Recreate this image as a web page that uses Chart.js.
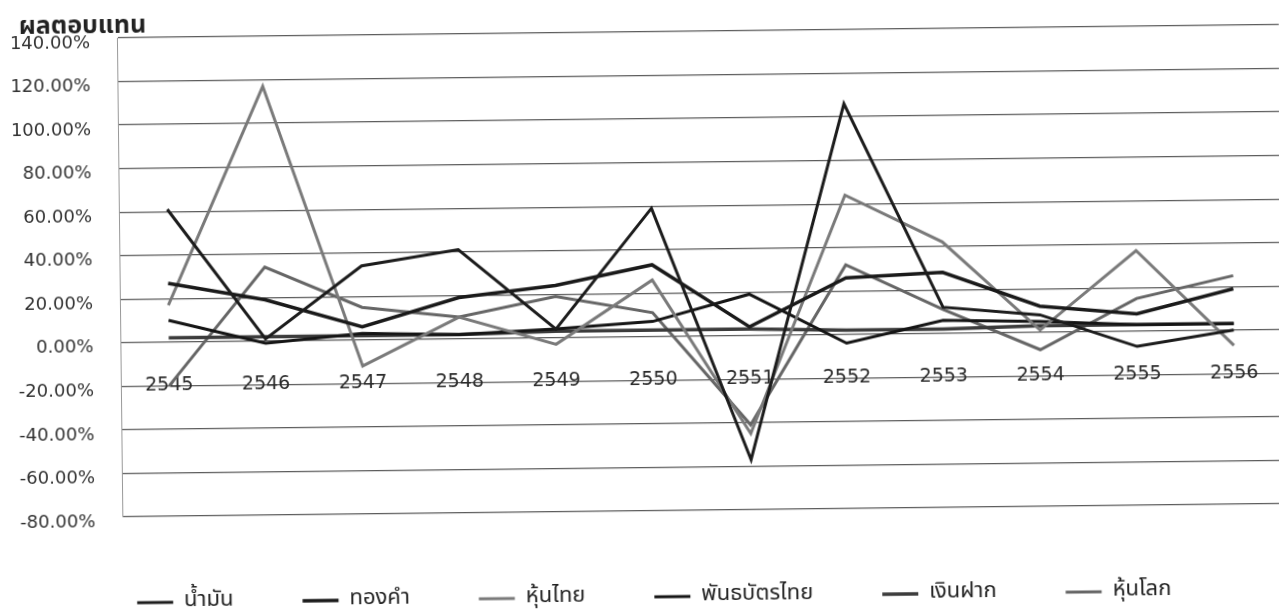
<!DOCTYPE html>
<html>
<head>
<meta charset="utf-8">
<script src="https://cdn.jsdelivr.net/npm/chart.js"></script>
<style>
  body { margin: 0; overflow: hidden; background: #fff; }
  /* the scanned original is tilted a little */
  #wrap { position: relative; width: 1290px; height: 614px; transform: rotate(-0.65deg); transform-origin: 640px 307px; }
  #title { position: absolute; left: 22px; top: 0px; font: bold 25px Tahoma, "Noto Sans Thai", "Noto Sans", sans-serif; color: #222; }
</style>
</head>
<body>
<div id="wrap">
  <canvas id="myChart"></canvas>
  <div id="title">ผลตอบแทน</div>
</div>
<script>
var years = ["2545","2546","2547","2548","2549","2550","2551","2552","2553","2554","2555","2556"];
var yTicks = [-80, -60, -40, -20, 0, 20, 40, 60, 80, 100, 120, 140];

// ผลตอบแทนรายปี (%)
var oil        = [61, 1, 34, 41, 4, 59, -57, 106, 12, 8, -7, 0];
var gold       = [27, 19, 6, 19, 24, 33, 4, 26, 28, 12, 8, 19];
var thaiStock  = [17, 117, -12, 10, -3, 26, -45, 64, 42, 1, 37, -7];
var thaiBond   = [10, -1, 3, 2, 4, 7, 19, -4, 6, 5, 3, 3];
var deposit    = [2, 2, 2, 2, 3, 3, 3, 2, 2, 3, 3, 3];
var worldStock = [-20, 34, 15, 10, 19, 11, -41, 32, 11, -8, 15, 25];

var thaiFont = "Tahoma, 'Noto Sans Thai', 'Noto Sans', sans-serif";

function line(label, data, color, width) {
  return {
    label: label,
    data: data,
    borderColor: color,
    backgroundColor: color,
    borderWidth: width,
    pointRadius: 0,
    pointHoverRadius: 0,
    fill: false,
    tension: 0
  };
}

Chart.defaults.font.family = "'DejaVu Sans', sans-serif";

new Chart("myChart", {
  type: "line",
  data: {
    labels: years,
    datasets: [
      line("น้ำมัน", oil, "#1c1c1c", 3),
      line("ทองคำ", gold, "#1a1a1a", 3.5),
      line("หุ้นไทย", thaiStock, "#7a7a7a", 3),
      line("พันธบัตรไทย", thaiBond, "#151515", 3),
      line("เงินฝาก", deposit, "#3c3c3c", 3.5),
      line("หุ้นโลก", worldStock, "#666666", 3)
    ]
  },
  options: {
    responsive: true,
    maintainAspectRatio: false,
    animation: false,
    layout: { padding: { left: 15, right: 3, top: 32, bottom: -4 } },
    plugins: {
      title: { display: false },
      tooltip: { enabled: false },
      legend: {
        display: true,
        position: "bottom",
        labels: {
          usePointStyle: true,
          pointStyle: "line",
          pointStyleWidth: 36,
          padding: 69,
          color: "#222",
          font: { size: 22, family: thaiFont }
        }
      }
    },
    scales: {
      x: {
        position: { y: 0 },
        offset: true,
        afterFit: function (s) { s.paddingTop = 0; s.paddingBottom = 0; },
        grid: { display: false, drawTicks: false },
        border: { display: false },
        ticks: { padding: 32, autoSkip: false, maxRotation: 0, color: "#2a2a2a", font: { size: 19 } }
      },
      y: {
        min: -80,
        max: 140,
        afterBuildTicks: function (s) {
          s.ticks = yTicks.map(function (v) { return { value: v }; });
        },
        afterFit: function (s) { s.width = 105; s.paddingTop = 10; },
        grid: { color: "#5c5c5c", lineWidth: 1.3, drawTicks: false },
        border: { color: "#999", width: 1 },
        ticks: {
          padding: 27,
          labelOffset: 5,
          color: "#333",
          font: { size: 18 },
          callback: function (v) { return v.toFixed(2) + "%"; }
        }
      },
      gap: {
        type: "linear",
        position: "bottom",
        display: true,
        grid: { display: false },
        border: { display: false },
        ticks: { display: false },
        afterFit: function (s) { s.height = 6; }
      }
    }
  }
});
</script>
</body>
</html>
